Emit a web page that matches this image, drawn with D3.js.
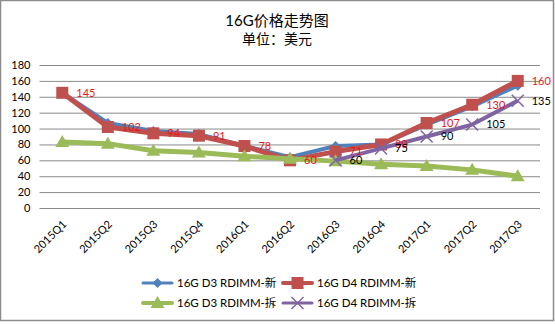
<!DOCTYPE html>
<html>
<head>
<meta charset="utf-8">
<script src="https://cdn.jsdelivr.net/npm/d3@7"></script>
<style>
  html, body { margin: 0; padding: 0; background: #fff; }
  svg text { font-family: Lato, "Noto Sans CJK SC", sans-serif; }
</style>
</head>
<body>
<svg id="chart" width="555" height="324"></svg>
<script>
// Quarterly price series (USD)
const quarters = ["2015Q1","2015Q2","2015Q3","2015Q4","2016Q1","2016Q2","2016Q3","2016Q4","2017Q1","2017Q2","2017Q3"];
const d3New  = [145, 107, 97, 93, 78, 64, 78, 80, 105, 128, 154];
const d4New  = [145, 102, 94, 91, 78, 60, 71, 80, 107, 130, 160];
const d3Used = [83, 81, 72, 70, 65, 62, 59, 55, 53, 48, 40];
const d4Used = [null, null, null, null, null, null, 60, 75, 90, 105, 135];
const yTicks = [0, 20, 40, 60, 80, 100, 120, 140, 160, 180];
const seriesNames = ["16G D3 RDIMM-新", "16G D4 RDIMM-新", "16G D3 RDIMM-拆", "16G D4 RDIMM-拆"];

const series = [
  { name: seriesNames[0], values: d3New,  color: "#4F81BD", width: 4, marker: "diamond", label: null },
  { name: seriesNames[1], values: d4New,  color: "#C0504D", width: 5, marker: "square",  label: "#e8171b" },
  { name: seriesNames[2], values: d3Used, color: "#9BBB59", width: 5, marker: "triangle", label: null },
  { name: seriesNames[3], values: d4Used, color: "#8064A2", width: 4, marker: "cross",   label: "#000" }
];

const svg = d3.select("#chart");

svg.append("rect").attr("x", 0.5).attr("y", 0.5).attr("width", 553).attr("height", 320)
  .attr("fill", "#fff").attr("stroke", "#8c8c8c").attr("stroke-width", 1.5);

// Title
svg.append("text").attr("x", 277).attr("y", 26).attr("text-anchor", "middle")
  .attr("font-size", 15).attr("fill", "#000").text("16G价格走势图");
svg.append("text").attr("x", 277).attr("y", 44).attr("text-anchor", "middle")
  .attr("font-size", 14).attr("fill", "#000").text("单位：美元");

const x = d3.scaleBand().domain(quarters).range([39.5, 540.5]);
const y = d3.scaleLinear().domain([0, 180]).range([208, 65]);
const cx = q => x(q) + x.bandwidth() / 2;

// Gridlines and y axis labels
const yAxis = d3.axisLeft(y).tickValues(yTicks).tickSize(-(540 - 39.5)).tickPadding(9);
const gy = svg.append("g").attr("transform", "translate(39.5,0)").call(yAxis);
gy.select(".domain").remove();
gy.selectAll(".tick line").attr("stroke", "#8a8a8a").attr("stroke-width", 1);
gy.selectAll(".tick text").attr("font-size", 11).attr("fill", "#000");

// X axis labels, rotated
const xAxis = d3.axisBottom(x).tickSize(0).tickPadding(0);
const gx = svg.append("g").attr("transform", "translate(0,208)").call(xAxis);
gx.select(".domain").remove();
gx.selectAll(".tick text")
  .attr("font-size", 11).attr("fill", "#000")
  .attr("text-anchor", "end")
  .attr("dy", 0)
  .attr("transform", "translate(5,17) rotate(-45)");

const line = d3.line().defined(d => d.v != null).x(d => cx(d.q)).y(d => y(d.v));

function drawMarker(g, type, color, px, py) {
  if (type === "square") {
    g.append("rect").attr("x", px - 6).attr("y", py - 6).attr("width", 12).attr("height", 12).attr("fill", color);
  } else if (type === "diamond") {
    g.append("path").attr("d", `M${px},${py-5}L${px+5},${py}L${px},${py+5}L${px-5},${py}Z`).attr("fill", color);
  } else if (type === "triangle") {
    g.append("path").attr("d", `M${px},${py-7}L${px+7},${py+5}L${px-7},${py+5}Z`).attr("fill", color);
  } else if (type === "cross") {
    g.append("path").attr("d", `M${px-6},${py-6}L${px+6},${py+6}M${px+6},${py-6}L${px-6},${py+6}`)
      .attr("stroke", color).attr("stroke-width", 1.5);
  }
}

series.forEach(s => {
  const pts = quarters.map((q, i) => ({ q, v: s.values[i] }));
  const g = svg.append("g");
  g.append("path").datum(pts).attr("d", line).attr("fill", "none")
    .attr("stroke", s.color).attr("stroke-width", s.width).attr("stroke-linejoin", "round");
  pts.filter(d => d.v != null).forEach(d => drawMarker(g, s.marker, s.color, cx(d.q), y(d.v)));
});

// Value labels
series.filter(s => s.label).forEach(s => {
  quarters.forEach((q, i) => {
    const v = s.values[i];
    if (v == null) return;
    svg.append("text").attr("x", cx(q) + 14).attr("y", y(v)).attr("dy", "0.35em")
      .attr("font-size", 11).attr("fill", s.label).text(v);
  });
});

// Legend
const legendPos = [[143, 283], [283, 283], [143, 303], [283, 303]];
series.forEach((s, i) => {
  const [lx, ly] = legendPos[i];
  const g = svg.append("g");
  g.append("line").attr("x1", lx).attr("x2", lx + 29).attr("y1", ly).attr("y2", ly)
    .attr("stroke", s.color).attr("stroke-width", s.width - 1).attr("stroke-linecap", "round");
  drawMarker(g, s.marker, s.color, lx + 14.5, ly);
  g.append("text").attr("x", lx + 34).attr("y", ly).attr("dy", "0.35em")
    .attr("font-size", 11.5).attr("fill", "#000").text(s.name);
});
</script>
</body>
</html>
